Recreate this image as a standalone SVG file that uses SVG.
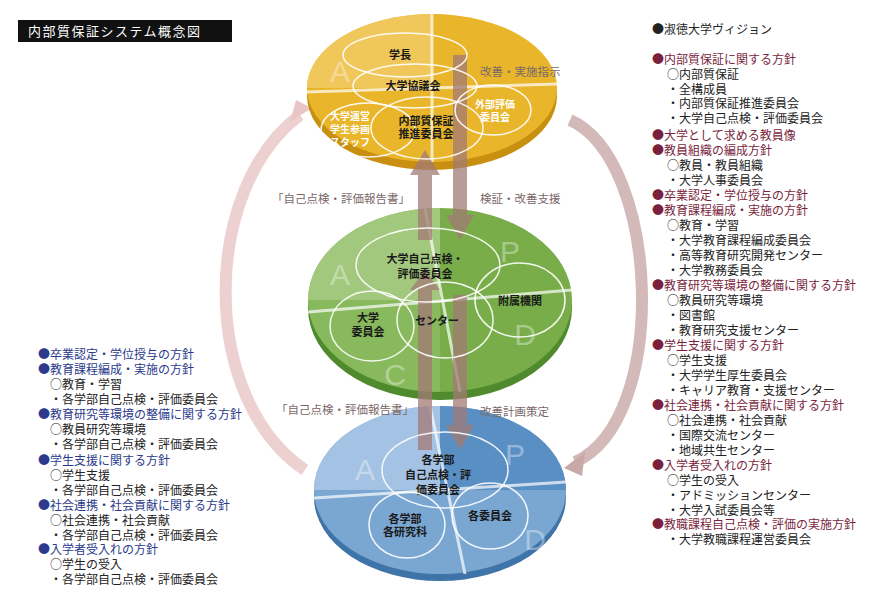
<svg xmlns="http://www.w3.org/2000/svg" width="880" height="609" viewBox="0 0 880 609">
<defs>
<style>
text{font-family:"Noto Sans CJK JP","Noto Sans CJK SC",sans-serif}
.l{font-size:12px;fill:#222}
.rh{font-size:12px;fill:#7a1f3d}
.lh{font-size:12px;fill:#2b3a8c}
.lab{font-size:11.5px;fill:#7a6868}
.n{font-size:11px;font-weight:bold;fill:#1a1a1a;text-anchor:middle}
.nw{font-size:10px;font-weight:bold;fill:#fff;text-anchor:middle}
.ring{fill:none;stroke:#fff;stroke-width:1.5;opacity:.9}
.pdca{font-size:30px;fill:#fff;opacity:.35;text-anchor:middle;font-family:"Liberation Sans",sans-serif}
.gap{stroke:#fff;stroke-width:3;opacity:.7}
.va{fill:#a27a76;opacity:.75}
</style>
</defs>
<rect x="18" y="20" width="214" height="22" fill="#111"/>
<text x="28" y="36" font-size="13" fill="#fff" letter-spacing="1.5">内部質保証システム概念図</text>

<g id="connectors">
<path d="M305,470 C200,400 200,190 300,115" fill="none" stroke="#e8c6c6" stroke-width="12" opacity=".8"/>
<path d="M290,122 L312,108 L296,100 z" fill="#e8c6c6"/>
<path d="M570,120 C660,160 670,420 575,462" fill="none" stroke="#c9a8a8" stroke-width="12" opacity=".8"/>
<path d="M585,452 L564,468 L582,476 z" fill="#c9a8a8"/>
</g>

<g id="disk-top">
<ellipse cx="432" cy="96" rx="125" ry="74" fill="#c98f10"/>
<ellipse cx="432" cy="88" rx="125" ry="74" fill="#e9b52a"/>
<path d="M432,88 L307,88 A125,74 0 0 1 432,14 z" fill="#f1cc66" opacity=".8"/>
<line x1="432" y1="14" x2="432" y2="162" class="gap"/>
<line x1="307" y1="92" x2="557" y2="84" class="gap"/>
<text x="340" y="82" class="pdca">A</text>
</g>
<g id="disk-mid">
<ellipse cx="440" cy="308" rx="132" ry="92" fill="#4f8a2c"/>
<ellipse cx="440" cy="300" rx="132" ry="92" fill="#78ad4a"/>
<path d="M440,300 L308,300 A132,92 0 0 1 440,208 z" fill="#a9cd86" opacity=".85"/>
<path d="M440,300 L440,392 A132,92 0 0 1 308,300 z" fill="#8fbd65" opacity=".7"/>
<line x1="425" y1="208" x2="460" y2="392" class="gap"/>
<line x1="308" y1="312" x2="572" y2="290" class="gap"/>
<text x="340" y="285" class="pdca">A</text><text x="510" y="262" class="pdca">P</text>
<text x="395" y="385" class="pdca">C</text><text x="525" y="345" class="pdca">D</text>
</g>
<g id="disk-bot">
<ellipse cx="440" cy="497" rx="126" ry="84" fill="#3f74a8"/>
<ellipse cx="440" cy="490" rx="126" ry="84" fill="#7aa6d2"/>
<path d="M440,490 L314,490 A126,84 0 0 1 440,406 z" fill="#a9c6e5" opacity=".9"/>
<path d="M440,490 L440,406 A126,84 0 0 1 566,490 z" fill="#5a8fc4"/>
<line x1="430" y1="406" x2="465" y2="574" class="gap"/>
<line x1="314" y1="498" x2="566" y2="482" class="gap"/>
<text x="365" y="480" class="pdca">A</text><text x="515" y="465" class="pdca">P</text>
<text x="535" y="550" class="pdca">D</text>
</g>

<g id="connectors-vertical">
<path class="va" d="M418,450 L418,290 L410,290 L425,270 L440,290 L432,290 L432,450 z"/>
<path class="va" d="M418,240 L418,175 L410,175 L425,150 L440,175 L432,175 L432,240 z"/>
<path class="va" d="M453,55 L453,215 L446,215 L460,240 L474,215 L467,215 L467,55 z"/>
<path class="va" d="M453,295 L453,425 L446,425 L460,450 L474,425 L467,425 L467,295 z"/>
</g>

<g id="n-gakucho"><ellipse cx="405" cy="55" rx="62" ry="22" class="ring"/><text x="400" y="59" class="n" font-size="12">学長</text></g>
<g id="n-kyogikai"><ellipse cx="415" cy="86" rx="62" ry="22" class="ring"/><text x="413" y="90" class="n">大学協議会</text></g>
<g id="n-unei"><ellipse cx="368" cy="130" rx="47" ry="27" class="ring"/><text x="350" y="120" class="nw"><tspan x="350">大学運営</tspan><tspan x="350" dy="13">学生参画</tspan><tspan x="350" dy="13">スタッフ</tspan></text></g>
<g id="n-naibu"><ellipse cx="427" cy="128" rx="56" ry="31" class="ring"/><text x="426" y="125" class="n"><tspan x="426">内部質保証</tspan><tspan x="426" dy="13">推進委員会</tspan></text></g>
<g id="n-gaibu"><ellipse cx="493" cy="110" rx="38" ry="25" class="ring"/><text x="495" y="108" class="nw"><tspan x="495">外部評価</tspan><tspan x="495" dy="13">委員会</tspan></text></g>

<g id="n-jiko"><ellipse cx="428" cy="265" rx="72" ry="37" class="ring"/><text x="425" y="263" class="n" font-size="12"><tspan x="425">大学自己点検・</tspan><tspan x="425" dy="15">評価委員会</tspan></text></g>
<g id="n-daigaku"><ellipse cx="372" cy="326" rx="42" ry="35" class="ring"/><text x="368" y="322" class="n"><tspan x="368">大学</tspan><tspan x="368" dy="14">委員会</tspan></text></g>
<g id="n-center"><ellipse cx="445" cy="320" rx="48" ry="38" class="ring"/><text x="437" y="325" class="n" fill="#222">センター</text></g>
<g id="n-fuzoku"><ellipse cx="520" cy="300" rx="45" ry="37" class="ring"/><text x="520" y="305" class="n">附属機関</text></g>

<g id="n-kakugakubu"><ellipse cx="445" cy="470" rx="63" ry="38" class="ring"/><text x="438" y="464" class="n" font-size="12"><tspan x="438">各学部</tspan><tspan x="438" dy="15">自己点検・評</tspan><tspan x="438" dy="15">価委員会</tspan></text></g>
<g id="n-kenkyuka"><ellipse cx="407" cy="525" rx="38" ry="33" class="ring"/><text x="405" y="523" class="n" font-size="10"><tspan x="405">各学部</tspan><tspan x="405" dy="13">各研究科</tspan></text></g>
<g id="n-kakuiin"><ellipse cx="490" cy="516" rx="38" ry="33" class="ring"/><text x="490" y="520" class="n" font-size="10">各委員会</text></g>

<text x="480" y="76" class="lab">改善・実施指示</text>
<text x="272" y="203" class="lab">「自己点検・評価報告書」</text>
<text x="480" y="203" class="lab">検証・改善支援</text>
<text x="276" y="414" class="lab">「自己点検・評価報告書」</text>
<text x="480" y="416" class="lab">改善計画策定</text>

<g id="right-list">
<text x="652" y="34" class="l">●淑徳大学ヴィジョン</text>
<text x="652" y="64" class="rh">●内部質保証に関する方針</text>
<text x="667" y="79" class="l">○内部質保証</text>
<text x="667" y="94" class="l">・全構成員</text>
<text x="667" y="108" class="l">・内部質保証推進委員会</text>
<text x="667" y="123" class="l">・大学自己点検・評価委員会</text>
<text x="652" y="140" class="rh">●大学として求める教員像</text>
<text x="652" y="155" class="rh">●教員組織の編成方針</text>
<text x="667" y="170" class="l">○教員・教員組織</text>
<text x="667" y="185" class="l">・大学人事委員会</text>
<text x="652" y="200" class="rh">●卒業認定・学位授与の方針</text>
<text x="652" y="215" class="rh">●教育課程編成・実施の方針</text>
<text x="667" y="230" class="l">○教育・学習</text>
<text x="667" y="245" class="l">・大学教育課程編成委員会</text>
<text x="667" y="260" class="l">・高等教育研究開発センター</text>
<text x="667" y="275" class="l">・大学教務委員会</text>
<text x="652" y="290" class="rh">●教育研究等環境の整備に関する方針</text>
<text x="667" y="305" class="l">○教員研究等環境</text>
<text x="667" y="320" class="l">・図書館</text>
<text x="667" y="335" class="l">・教育研究支援センター</text>
<text x="652" y="350" class="rh">●学生支援に関する方針</text>
<text x="667" y="365" class="l">○学生支援</text>
<text x="667" y="380" class="l">・大学学生厚生委員会</text>
<text x="667" y="395" class="l">・キャリア教育・支援センター</text>
<text x="652" y="410" class="rh">●社会連携・社会貢献に関する方針</text>
<text x="667" y="425" class="l">○社会連携・社会貢献</text>
<text x="667" y="440" class="l">・国際交流センター</text>
<text x="667" y="455" class="l">・地域共生センター</text>
<text x="652" y="470" class="rh">●入学者受入れの方針</text>
<text x="667" y="485" class="l">○学生の受入</text>
<text x="667" y="500" class="l">・アドミッションセンター</text>
<text x="667" y="515" class="l">・大学入試委員会等</text>
<text x="652" y="529" class="rh">●教職課程自己点検・評価の実施方針</text>
<text x="667" y="544" class="l">・大学教職課程運営委員会</text>
</g>

<g id="left-list">
<text x="38" y="359" class="lh">●卒業認定・学位授与の方針</text>
<text x="38" y="374" class="lh">●教育課程編成・実施の方針</text>
<text x="50" y="389" class="l">○教育・学習</text>
<text x="50" y="404" class="l">・各学部自己点検・評価委員会</text>
<text x="38" y="419" class="lh">●教育研究等環境の整備に関する方針</text>
<text x="50" y="434" class="l">○教員研究等環境</text>
<text x="50" y="449" class="l">・各学部自己点検・評価委員会</text>
<text x="38" y="465" class="lh">●学生支援に関する方針</text>
<text x="50" y="480" class="l">○学生支援</text>
<text x="50" y="495" class="l">・各学部自己点検・評価委員会</text>
<text x="38" y="510" class="lh">●社会連携・社会貢献に関する方針</text>
<text x="50" y="525" class="l">○社会連携・社会貢献</text>
<text x="50" y="540" class="l">・各学部自己点検・評価委員会</text>
<text x="38" y="554" class="lh">●入学者受入れの方針</text>
<text x="50" y="569" class="l">○学生の受入</text>
<text x="50" y="584" class="l">・各学部自己点検・評価委員会</text>
</g>
</svg>
